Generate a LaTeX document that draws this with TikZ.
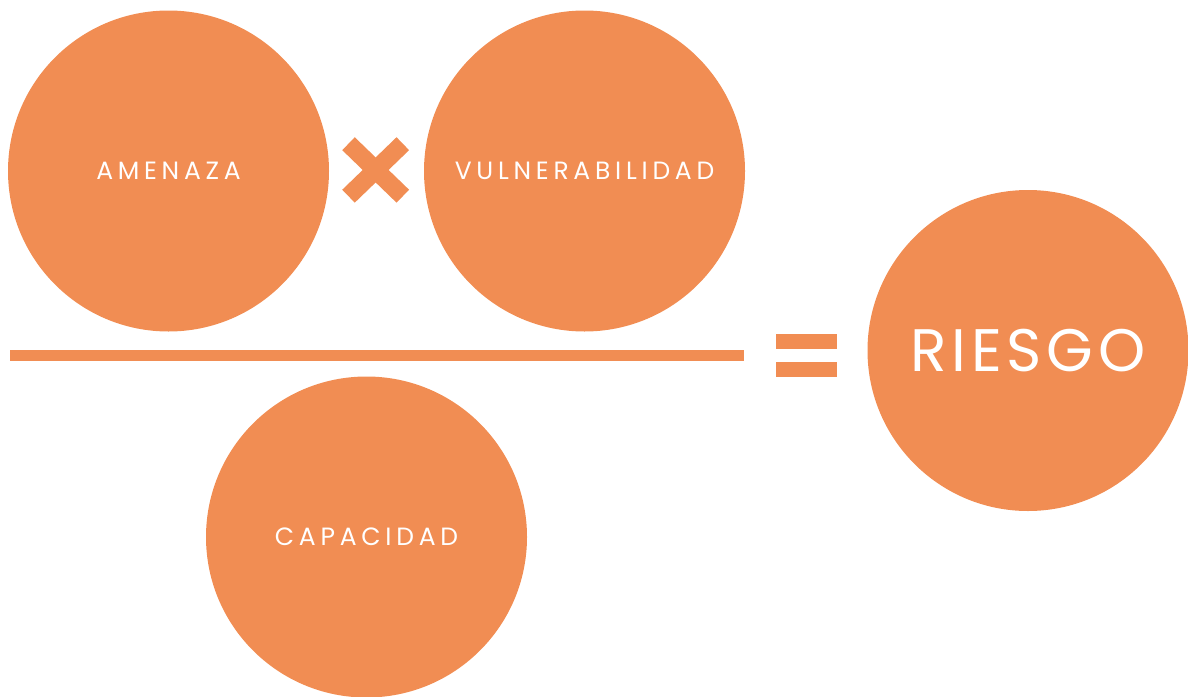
\documentclass[tikz,border=0pt]{standalone}
\usepackage{fontspec}
\setmainfont{Poppins}
\newfontfamily\smallfam[LetterSpace=19]{Poppins}
\newfontfamily\bigfam[LetterSpace=8]{Poppins}
\definecolor{orng}{HTML}{F18D53}
\begin{document}
\begin{tikzpicture}[x=1pt,y=-1pt,
  disc/.style={circle,fill=orng,minimum size=321pt,inner sep=0pt,text=white},
  small/.style={font=\smallfam\fontsize{25}{27}\selectfont},
  big/.style={font=\bigfam\fontsize{60}{62}\selectfont},
  bar/.style={fill=orng,draw=none}]
\useasboundingbox (0,0) rectangle (1188,696);
\node[disc,small] (amenaza) at (168.5,171) {AMENAZA};
\node[disc,small] (vuln) at (584.5,171) {VULNERABILIDAD};
\node[disc,small] (capacidad) at (366.5,537) {CAPACIDAD};
\node[disc,big] (riesgo) at (1028,350.5) {RIESGO};
% fraction bar
\fill[bar] (10,350) rectangle (744,361);
% equals sign
\fill[bar] (776,334) rectangle (837,349);
\fill[bar] (776,362) rectangle (837,377);
% times sign
\coordinate (xa) at (348.5,143.7);
\coordinate (xb) at (402.8,196.2);
\coordinate (xc) at (402.8,143.7);
\coordinate (xd) at (348.5,196.2);
\draw[orng,line width=18pt] (xa) -- (xb);
\draw[orng,line width=18pt] (xc) -- (xd);
\end{tikzpicture}
\end{document}
